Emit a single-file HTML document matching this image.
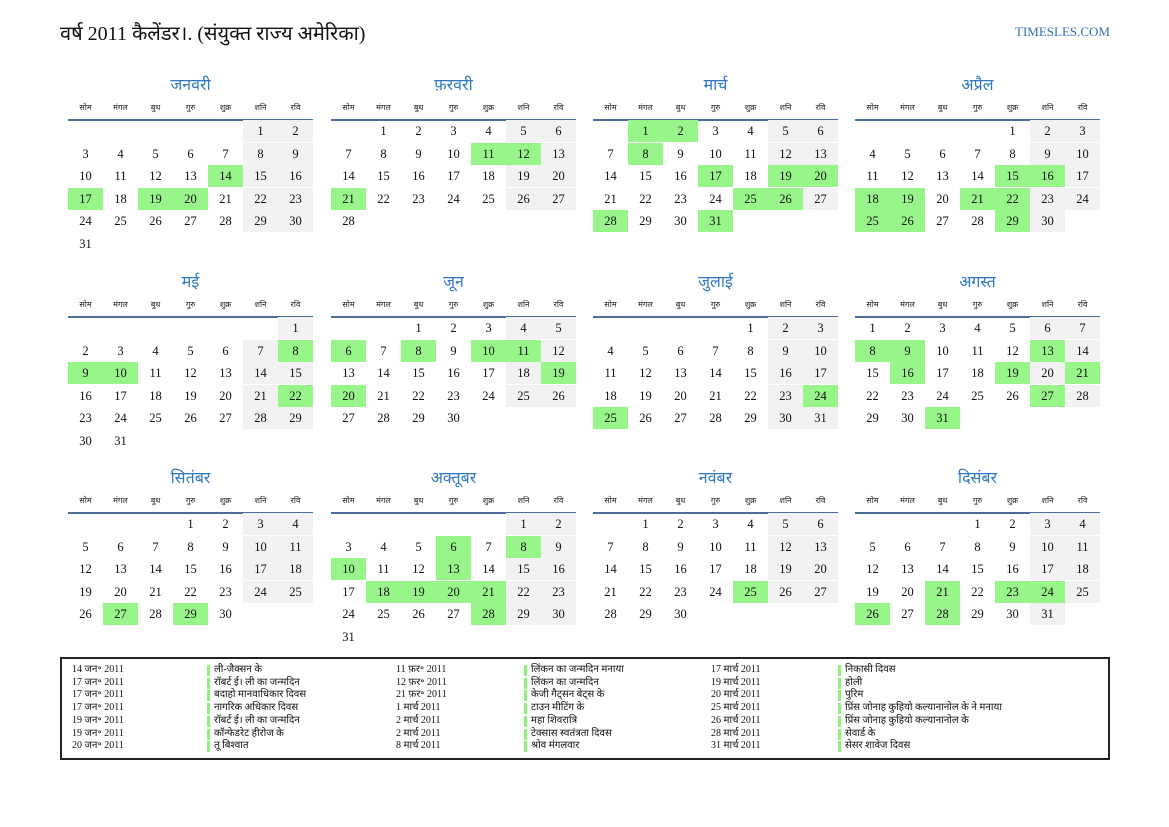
<!DOCTYPE html>
<html><head><meta charset="utf-8">
<style>
body{margin:0;width:1169px;height:827px;background:#fff;position:relative;overflow:hidden;font-family:"Liberation Serif","Noto Serif CJK SC","Noto Sans CJK SC",serif;color:#111}
.a{position:absolute;white-space:nowrap}
#title{left:60px;top:19px;font-size:20px}
#site{right:59px;top:24px;font-size:13px;color:#2f6fb5}
.mt{font-size:16px;color:#2f78c4;text-align:center;width:245px}
.dh{font-size:8px;text-align:center;width:35px;color:#222}
.cell{width:35px;height:22px;text-align:center;line-height:22px;font-size:12.5px}
.line{height:2px;background:#4b6d99;width:245px}
#box{left:60px;top:657px;width:1046px;height:99px;border:2px solid #222}
.ev{font-size:10px;line-height:12.7px}
.bar{width:3px;height:11px;background:#8ef07d}
</style></head><body>
<div class="a" id="title">वर्ष 2011 कैलेंडर।. (संयुक्त राज्य अमेरिका)</div>
<div class="a" id="site">TIMESLES.COM</div>
<div class="a" id="box"></div>
<script>
const monthNames=["जनवरी","फ़रवरी","मार्च","अप्रैल","मई","जून","जुलाई","अगस्त","सितंबर","अक्तूबर","नवंबर","दिसंबर"];
const dayNames=["सोम","मंगल","बुध","गुरु","शुक्र","शनि","रवि"];
const holidays=[[14,17,19,20],[11,12,21],[1,2,8,17,19,20,25,26,28,31],[15,16,18,19,21,22,25,26,29],[8,9,10,22],[6,8,10,11,19,20],[24,25],[8,9,13,16,19,21,27,31],[27,29],[6,8,10,13,18,19,20,21,28],[25],[21,23,24,26,28]];
const evDates=[["14 जन॰ 2011","17 जन॰ 2011","17 जन॰ 2011","17 जन॰ 2011","19 जन॰ 2011","19 जन॰ 2011","20 जन॰ 2011"],["11 फ़र॰ 2011","12 फ़र॰ 2011","21 फ़र॰ 2011","1 मार्च 2011","2 मार्च 2011","2 मार्च 2011","8 मार्च 2011"],["17 मार्च 2011","19 मार्च 2011","20 मार्च 2011","25 मार्च 2011","26 मार्च 2011","28 मार्च 2011","31 मार्च 2011"]];
const evNames=[["ली-जैक्सन के","रॉबर्ट ई। ली का जन्मदिन","बदाहो मानवाधिकार दिवस","नागरिक अधिकार दिवस","रॉबर्ट ई। ली का जन्मदिन","कॉन्फेडरेट हीरोज के","तू बिश्वात"],["लिंकन का जन्मदिन मनाया","लिंकन का जन्मदिन","केजी गैट्सन बेट्स के","टाउन मीटिंग के","महा शिवरात्रि","टेक्सास स्वतंत्रता दिवस","श्रोव मंगलवार"],["निकासी दिवस","होली","पुरिम","प्रिंस जोनाह कुहियो कल्यानानोल के ने मनाया","प्रिंस जोनाह कुहियो कल्यानानोल के","सेवार्ड के","सेसर शावेज दिवस"]];
const colX=[68,331,593,855], rowY=[0,197,393];
function mk(cls,x,y,txt){const d=document.createElement('div');d.className='a '+cls;d.style.left=x+'px';d.style.top=y+'px';if(txt!==undefined)d.textContent=txt;document.body.appendChild(d);return d;}
for(let m=0;m<12;m++){
  const x0=colX[m%4], y0=rowY[Math.floor(m/4)];
  const t=mk('mt',x0,y0+73,monthNames[m]);
  
  
  dayNames.forEach((d,i)=>{const e=mk('dh',x0+i*35,y0+102,d);
    
    });
  const l=mk('line',x0,y0+119);
  
  
  const first=(new Date(2011,m,1).getDay()+6)%7;
  const n=new Date(2011,m+1,0).getDate();
  for(let d=1;d<=n;d++){
    const p=first+d-1,c=p%7,r=Math.floor(p/7);
    const e=mk('cell',x0+c*35,y0+120+r*22.5,String(d));
    if(holidays[m].includes(d))e.style.background='#98f58a';
    else if(c>=5)e.style.background='#f2f2f2';
    
    
  }
}
const ex=[[72,207],[396,524],[711,838]];
for(let k=0;k<3;k++)for(let i=0;i<7;i++){
  const y=664+i*12.7;
  const a=mk('ev',ex[k][0],y,evDates[k][i]);
  
  
  const b=mk('bar',ex[k][1],y+1);
  
  
  const c=mk('ev',ex[k][1]+7,y,evNames[k][i]);
  
  
}
</script>
</body></html>
